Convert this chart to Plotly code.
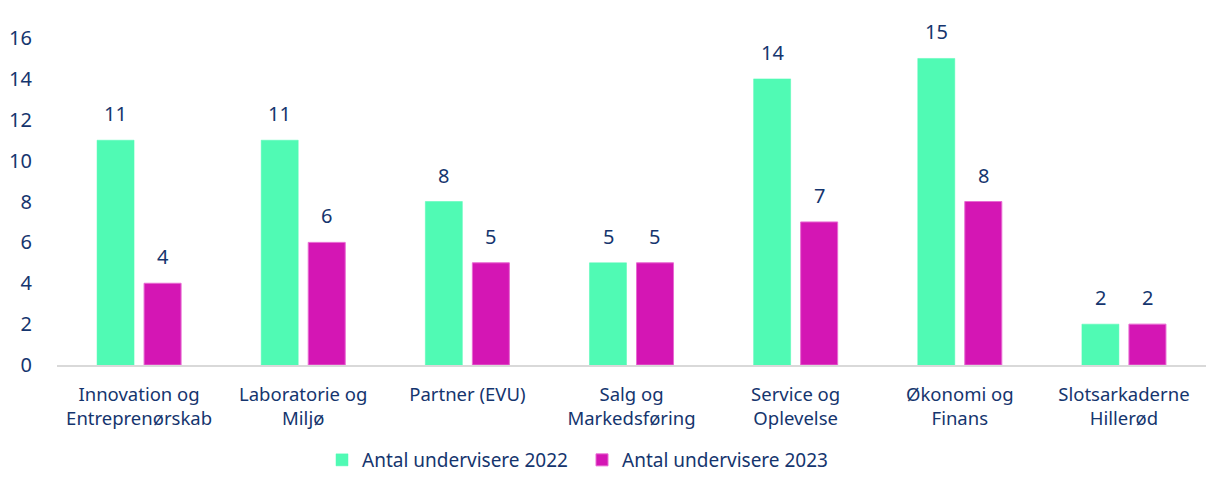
import plotly.graph_objects as go

categories = ["Innovation og<br>Entreprenørskab", "Laboratorie og<br>Miljø", "Partner (EVU)",
              "Salg og<br>Markedsføring", "Service og<br>Oplevelse", "Økonomi og<br>Finans",
              "Slotsarkaderne<br>Hillerød"]
values_2022 = [11, 11, 8, 5, 14, 15, 2]
values_2023 = [4, 6, 5, 5, 7, 8, 2]
series_names = ["Antal undervisere 2022", "Antal undervisere 2023"]
y_ticks = [0, 2, 4, 6, 8, 10, 12, 14, 16]

navy = "#15356e"
font_family = "Noto Sans"
green = "#50FAB4"
magenta = "#D416B4"

fig = go.Figure()
fig.add_trace(go.Bar(x=categories, y=values_2022, name=series_names[0],
                     marker=dict(color=green, line=dict(color=green, width=0.5))))
fig.add_trace(go.Bar(x=categories, y=values_2023, name=series_names[1],
                     marker=dict(color=magenta, line=dict(color="#E86AD2", width=1))))

annotations = []
for i, (a, b) in enumerate(zip(values_2022, values_2023)):
    annotations.append(dict(x=i - 0.143, y=a, xref="x", yref="y", text=str(a), showarrow=False,
                            yanchor="bottom", yshift=11, font=dict(color=navy, size=20, family=font_family)))
    annotations.append(dict(x=i + 0.143, y=b, xref="x", yref="y", text=str(b), showarrow=False,
                            yanchor="bottom", yshift=11, font=dict(color=navy, size=20, family=font_family)))

fig.update_layout(
    width=1209, height=479,
    margin=dict(l=57, r=3, t=38, b=114, autoexpand=False),
    plot_bgcolor="white", paper_bgcolor="white",
    barmode="group", bargap=0.427, bargroupgap=0.213,
    font=dict(family=font_family, color=navy, size=17),
    showlegend=True,
    annotations=annotations,
    legend=dict(orientation="h", xref="container", yref="container",
                x=(362 - 40) / 1209, xanchor="left", y=-0.01, yanchor="bottom",
                font=dict(size=19, color=navy, family=font_family), borderwidth=0,
                traceorder="normal", entrywidth=215, entrywidthmode="pixels"),
    xaxis=dict(showgrid=False, showline=True, linecolor="#d9d9d9", linewidth=2,
               ticks="", tickfont=dict(size=18.5, color=navy), automargin=False,
               ticklabelstandoff=12, range=[-0.5, 6.5]),
    yaxis=dict(range=[0, 16], tickvals=y_ticks, showgrid=False, zeroline=False,
               showline=False, ticks="", tickfont=dict(size=20, color=navy),
               ticklabelstandoff=24, automargin=False),
)
fig.write_html("out.html", config={"displayModeBar": False},
               post_script="document.body.style.margin='0';document.body.style.overflow='hidden';")
